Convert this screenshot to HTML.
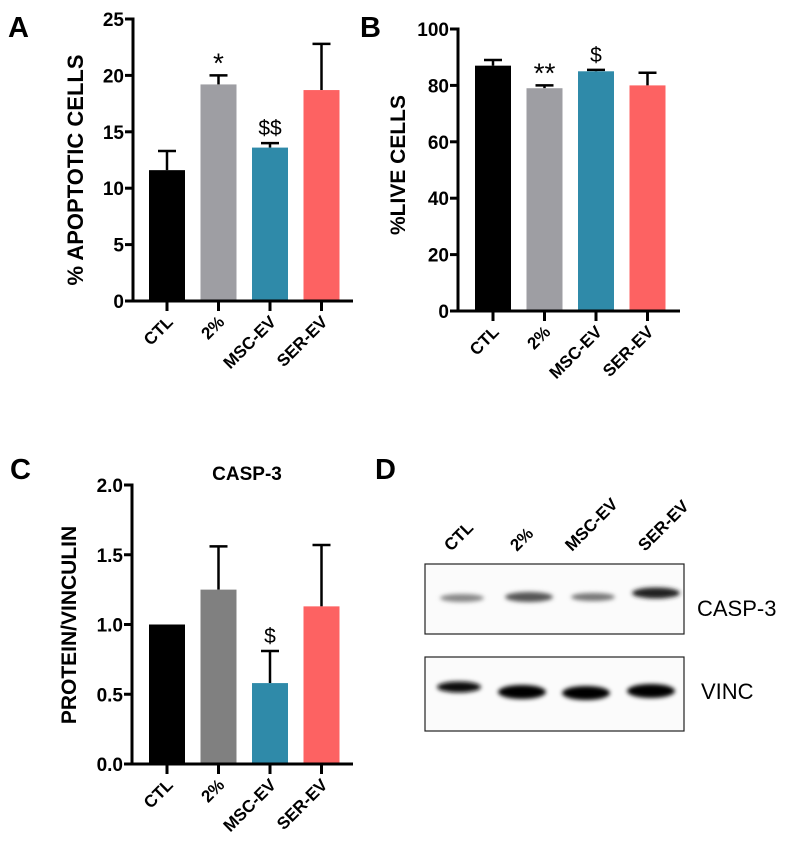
<!DOCTYPE html>
<html><head><meta charset="utf-8"><style>
html,body{margin:0;padding:0;background:#fff;}
svg{display:block;font-family:"Liberation Sans",Arial,sans-serif;}
</style></head><body>
<svg id="fig" width="799" height="853" viewBox="0 0 799 853" xmlns="http://www.w3.org/2000/svg">
<defs>
<filter id="blur" x="-20%" y="-100%" width="140%" height="300%"><feGaussianBlur stdDeviation="2.2"/></filter>
</defs>
<text x="8" y="37" font-size="29" font-weight="bold">A</text>
<text x="360" y="37" font-size="29" font-weight="bold">B</text>
<text x="10" y="479" font-size="29" font-weight="bold">C</text>
<text x="375" y="479" font-size="29" font-weight="bold">D</text>
<text x="247" y="480" font-size="19" font-weight="bold" text-anchor="middle">CASP-3</text>
<g id="charts"></g>
<g id="blot">
  <rect x="425" y="564" width="259" height="70" fill="#fbfbfb" stroke="#222" stroke-width="1.2"/>
  <rect x="425" y="657" width="259" height="74" fill="#fbfbfb" stroke="#222" stroke-width="1.2"/>
  <g filter="url(#blur)">
    <ellipse cx="462" cy="598" rx="22" ry="4" fill="#888"/>
    <ellipse cx="529" cy="597" rx="24" ry="5" fill="#555"/>
    <ellipse cx="593" cy="597" rx="22" ry="4" fill="#777"/>
    <ellipse cx="656" cy="593" rx="24" ry="5.5" fill="#222"/>
    <ellipse cx="459" cy="687" rx="22" ry="5.5" fill="#0a0a0a"/>
    <ellipse cx="522" cy="692" rx="24" ry="7" fill="#000"/>
    <ellipse cx="586" cy="693" rx="24" ry="7" fill="#000"/>
    <ellipse cx="651" cy="691" rx="24" ry="7" fill="#000"/>
  </g>
  <text x="697" y="616" font-size="22">CASP-3</text>
  <text x="701" y="699" font-size="22">VINC</text>
  <g font-size="17" font-weight="bold">
    <text transform="translate(451,552) rotate(-45)">CTL</text>
    <text transform="translate(517,552) rotate(-45)">2%</text>
    <text transform="translate(572,552) rotate(-45)">MSC-EV</text>
    <text transform="translate(645,552) rotate(-45)">SER-EV</text>
  </g>
</g>
</svg>
<script>
const categories = ["CTL", "2%", "MSC-EV", "SER-EV"];
const apoptoticMeans = [11.6, 19.2, 13.6, 18.7];
const apoptoticErrTop = [13.3, 20.0, 14.0, 22.8];
const apoptoticTicks = [0, 5, 10, 15, 20, 25];
const apoptoticMarks = ["", "*", "$$", ""];
const liveMeans = [87, 79, 85, 80];
const liveErrTop = [89, 80, 85.5, 84.5];
const liveTicks = [0, 20, 40, 60, 80, 100];
const liveMarks = ["", "**", "$", ""];
const caspMeans = [1.0, 1.25, 0.58, 1.13];
const caspErrTop = [1.0, 1.56, 0.81, 1.57];
const caspTicks = ["0.0", "0.5", "1.0", "1.5", "2.0"];
const caspMarks = ["", "", "$", ""];

const NS = "http://www.w3.org/2000/svg";
const root = document.getElementById("charts");
function mk(tag, attrs, parent) {
  const e = document.createElementNS(NS, tag);
  for (const k in attrs) e.setAttribute(k, attrs[k]);
  (parent || root).appendChild(e);
  return e;
}
function chart(cfg) {
  const g = mk("g", {});
  
  
  const ymax = cfg.ymax;
  const y = v => cfg.y0 - (v / ymax) * (cfg.y0 - cfg.yTop);
  const xc = i => cfg.x0 + cfg.first + 51.5 * i;
  const bw = cfg.bw;
  cfg.means.forEach((v, i) => {
    const top = cfg.errTop[i];
    if (top > v) {
      const l = mk("line", {x1: xc(i), x2: xc(i), y1: y(v), y2: y(top), stroke: "#000", "stroke-width": 2.5}, g);
      
      
      const c = mk("line", {x1: xc(i) - 9, x2: xc(i) + 9, y1: y(top), y2: y(top), stroke: "#000", "stroke-width": 2.5}, g);
      
      
    }
    const r = mk("rect", {x: xc(i) - bw / 2, y: y(v), width: bw, height: cfg.y0 - y(v), fill: cfg.colors[i]}, g);
    
    
    if (cfg.marks[i]) {
      const star = cfg.marks[i].indexOf('*') >= 0;
      const t = mk("text", {x: xc(i), y: y(top) - (star ? 3 : 8), "font-size": star ? 28 : 21, "text-anchor": "middle"}, g);
      t.textContent = cfg.marks[i];
      
      
    }
    const tk = mk("line", {x1: xc(i), x2: xc(i), y1: cfg.y0, y2: cfg.y0 + 10, stroke: "#000", "stroke-width": 3}, g);
    
    
    const lb = mk("text", {transform: "translate(" + (xc(i) + 7) + "," + (cfg.y0 + 22) + ") rotate(-45)", "font-size": 17, "font-weight": "bold", "text-anchor": "end"}, g);
    lb.textContent = categories[i];
    
    
  });
  const ya = mk("line", {x1: cfg.x0, x2: cfg.x0, y1: cfg.yTop - 1.5, y2: cfg.y0 + 1.5, stroke: "#000", "stroke-width": 3}, g);
  
  
  const xa = mk("line", {x1: cfg.x0 - 1.5, x2: cfg.xEnd, y1: cfg.y0, y2: cfg.y0, stroke: "#000", "stroke-width": 3}, g);
  
  
  cfg.ticks.forEach(tv => {
    const v = parseFloat(tv);
    const tl = mk("line", {x1: cfg.x0 - 8, x2: cfg.x0, y1: y(v), y2: y(v), stroke: "#000", "stroke-width": 3}, g);
    
    
    const tt = mk("text", {x: cfg.x0 - 9, y: y(v) + 7, "font-size": 19, "font-weight": "bold", "text-anchor": "end"}, g);
    tt.textContent = tv;
    
    
  });
  const yt = mk("text", {transform: "translate(" + cfg.labelX + "," + cfg.labelY + ") rotate(-90)", "font-size": cfg.labelSize, "font-weight": "bold", "text-anchor": "middle"}, g);
  yt.textContent = cfg.label;
  
  
}
const colAB = ["#000000", "#9e9ea3", "#2f8aa9", "#fd6262"];
const colC = ["#000000", "#808080", "#2f8aa9", "#fd6262"];
chart({name: "apoptotic-chart", means: apoptoticMeans, errTop: apoptoticErrTop, ticks: apoptoticTicks, marks: apoptoticMarks,
  ymax: 25, x0: 133, xEnd: 353, y0: 301, yTop: 19, first: 34, bw: 36, colors: colAB, label: "% APOPTOTIC CELLS", labelX: 83, labelY: 170, labelSize: 22});
chart({name: "live-cells-chart", means: liveMeans, errTop: liveErrTop, ticks: liveTicks, marks: liveMarks,
  ymax: 100, x0: 458, xEnd: 680, y0: 311, yTop: 29, first: 35, bw: 36, colors: colAB, label: "%LIVE CELLS", labelX: 405, labelY: 165, labelSize: 21});
chart({name: "casp3-chart", means: caspMeans, errTop: caspErrTop, ticks: caspTicks, marks: caspMarks,
  ymax: 2, x0: 132, xEnd: 353, y0: 764, yTop: 485, first: 35, bw: 36, colors: colC, label: "PROTEIN/VINCULIN", labelX: 76, labelY: 625, labelSize: 21});
</script>
</body></html>
